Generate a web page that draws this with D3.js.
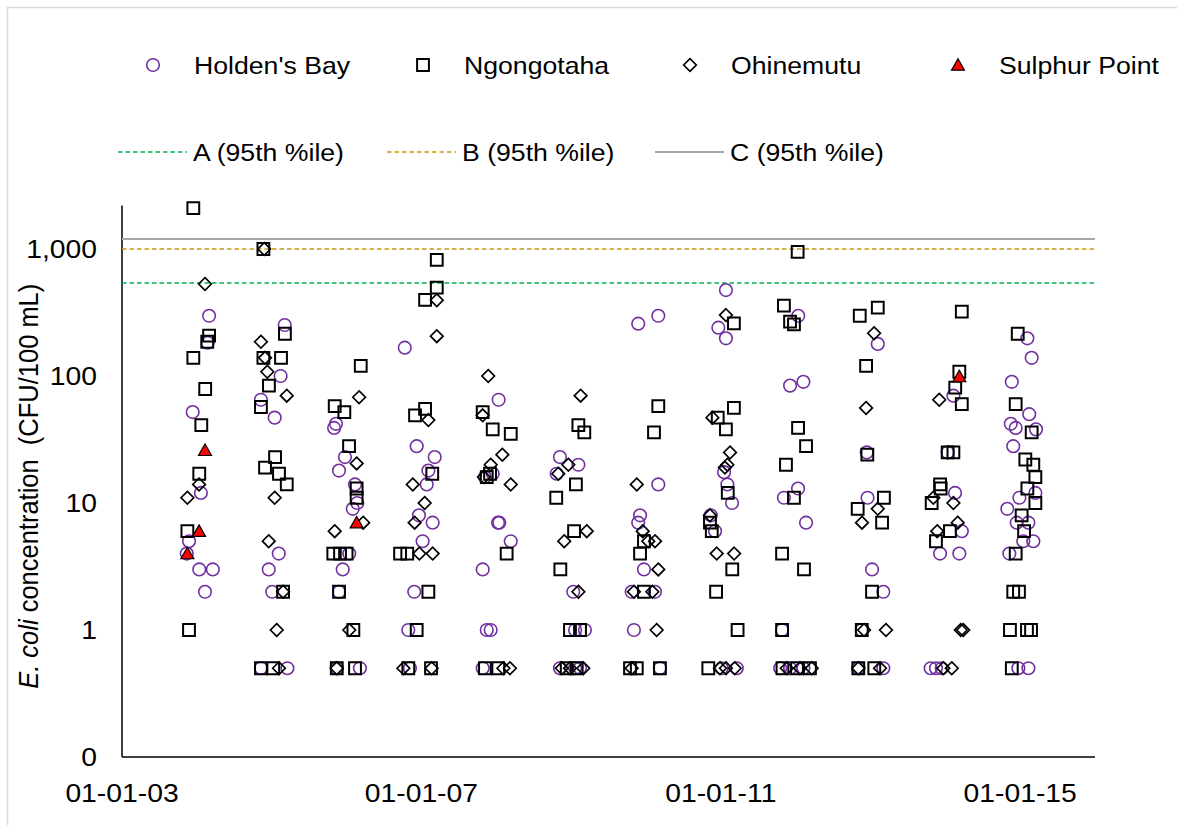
<!DOCTYPE html>
<html>
<head>
<meta charset="utf-8">
<script src="https://cdn.jsdelivr.net/npm/d3@7"></script>
<style>
  html, body { margin: 0; padding: 0; background: #fff; }
  svg { display: block; }
  text { font-family: "Liberation Sans", Arial, sans-serif; fill: #000; }
</style>
</head>
<body>
<div id="chart"></div>
<script>
// E. coli samples (CFU/100 mL) by site: [sample date, concentration]
const holdensBay = [
  ["2004-03-01", 298], ["2004-02-23", 183], ["2003-12-12", 52], ["2004-01-21", 12], ["2003-11-24", 5],
  ["2003-11-13", 4], ["2004-01-13", 3], ["2004-03-19", 3], ["2004-02-10", 2],
  ["2005-03-05", 252], ["2005-02-13", 100], ["2004-11-09", 65], ["2005-01-15", 47], ["2005-02-04", 4],
  ["2004-12-17", 3], ["2005-01-03", 2], ["2005-03-18", 0.5], ["2004-11-09", 0.5],
  ["2005-11-10", 42], ["2005-11-01", 39], ["2005-12-24", 23], ["2005-11-25", 18], ["2006-02-11", 14],
  ["2006-02-22", 10], ["2006-01-31", 9], ["2006-01-14", 4], ["2005-12-13", 3], ["2005-11-25", 2],
  ["2006-03-07", 0.5], ["2005-11-14", 0.5],
  ["2006-10-12", 167], ["2006-12-09", 28], ["2007-03-07", 23], ["2007-02-04", 18], ["2007-01-27", 14],
  ["2006-12-20", 8], ["2007-02-25", 7], ["2007-01-07", 5], ["2006-11-27", 2], ["2006-10-29", 1],
  ["2006-11-06", 0.5],
  ["2008-01-13", 65], ["2007-12-15", 17], ["2007-11-07", 16], ["2008-01-16", 7], ["2008-01-10", 7],
  ["2008-03-12", 5], ["2007-10-27", 3], ["2007-11-16", 1], ["2007-12-05", 1], ["2007-10-27", 0.5],
  ["2008-11-07", 23], ["2009-02-05", 20], ["2008-10-22", 17], ["2009-01-11", 2], ["2009-03-09", 1],
  ["2009-01-20", 1], ["2008-11-07", 0.5], ["2009-01-20", 0.5], ["2009-02-13", 0.5],
  ["2009-11-24", 258], ["2010-03-02", 298], ["2010-03-02", 14], ["2009-12-03", 8], ["2009-11-24", 7],
  ["2009-12-22", 3], ["2009-10-23", 2], ["2010-02-14", 2], ["2009-11-03", 1], ["2010-03-10", 0.5],
  ["2011-01-26", 475], ["2010-12-20", 240], ["2011-01-26", 198], ["2011-01-17", 17.5], ["2011-02-02", 14],
  ["2011-02-25", 10], ["2010-11-13", 8], ["2010-12-04", 6], ["2011-03-20", 0.5], ["2011-01-05", 0.5],
  ["2012-01-14", 298], ["2011-12-05", 84], ["2012-02-08", 90], ["2012-01-13", 13], ["2011-11-05", 11],
  ["2012-02-21", 7], ["2011-10-27", 1], ["2011-10-18", 0.5], ["2011-12-05", 0.5], ["2012-02-08", 0.5],
  ["2013-02-05", 179], ["2012-12-13", 25], ["2012-12-17", 11], ["2013-01-08", 3], ["2013-03-04", 2],
  ["2012-11-19", 1], ["2012-11-02", 0.5], ["2013-03-04", 0.5],
  ["2014-02-09", 70], ["2014-01-12", 25], ["2014-02-17", 12], ["2014-03-22", 6], ["2013-12-06", 4],
  ["2014-03-10", 4], ["2013-10-21", 0.5], ["2013-11-16", 0.5], ["2013-12-14", 0.5],
  ["2015-02-05", 198], ["2015-02-26", 139], ["2014-11-21", 90], ["2015-02-14", 50], ["2014-11-16", 42],
  ["2014-12-10", 39], ["2015-03-19", 38], ["2014-11-28", 28], ["2015-03-16", 12], ["2014-12-28", 11],
  ["2014-10-30", 9], ["2014-12-15", 7], ["2015-02-10", 7], ["2015-01-16", 5], ["2015-03-06", 5],
  ["2014-11-09", 4], ["2014-12-23", 0.5], ["2015-02-10", 0.5]
];

const ngongotaha = [
  ["2003-12-15", 2100], ["2004-03-01", 208], ["2004-02-21", 186], ["2003-12-15", 139], ["2004-02-11", 79],
  ["2004-01-23", 41], ["2004-01-13", 17], ["2003-11-16", 6], ["2003-11-24", 1],
  ["2004-11-21", 1000], ["2005-03-06", 215], ["2004-11-21", 139], ["2005-02-15", 139], ["2004-12-18", 84],
  ["2004-11-09", 57], ["2005-01-17", 23], ["2004-11-29", 19], ["2005-02-05", 17], ["2005-03-15", 14],
  ["2005-02-25", 2], ["2004-11-09", 0.5], ["2005-01-08", 0.5],
  ["2006-03-11", 120], ["2005-11-04", 58], ["2005-12-21", 52], ["2006-01-13", 28], ["2006-02-19", 13],
  ["2006-02-19", 11], ["2005-10-28", 4], ["2005-11-30", 4], ["2006-01-01", 4], ["2005-11-25", 2],
  ["2006-02-03", 1], ["2005-11-14", 0.5], ["2006-02-11", 0.5],
  ["2007-03-17", 820], ["2007-03-17", 496], ["2007-01-19", 397], ["2007-01-19", 55], ["2006-12-01", 49],
  ["2007-02-23", 17], ["2006-09-19", 4], ["2006-10-24", 4], ["2007-02-04", 2], ["2006-12-09", 1],
  ["2006-10-29", 0.5], ["2007-02-17", 0.5],
  ["2007-10-27", 52], ["2007-12-15", 38], ["2008-03-12", 35], ["2007-12-02", 17], ["2007-11-16", 16],
  ["2008-02-21", 4], ["2007-11-07", 0.5], ["2008-01-11", 0.5],
  ["2009-02-05", 41], ["2009-03-06", 36], ["2009-01-24", 14], ["2008-10-20", 11], ["2009-01-15", 6],
  ["2008-11-09", 3], ["2008-12-26", 1], ["2009-02-13", 1], ["2008-12-10", 0.5], ["2009-01-28", 0.5],
  ["2010-03-02", 58], ["2010-02-09", 36], ["2009-12-22", 5], ["2009-12-03", 4], ["2009-12-22", 2],
  ["2009-10-15", 0.5], ["2009-11-17", 0.5], ["2010-03-10", 0.5],
  ["2011-03-06", 260], ["2011-03-06", 56], ["2010-12-17", 47], ["2011-01-26", 38], ["2011-02-04", 12],
  ["2010-11-09", 7], ["2010-11-18", 6], ["2011-02-26", 3], ["2010-12-09", 2], ["2011-03-24", 1],
  ["2010-11-01", 0.5],
  ["2012-01-11", 950], ["2011-11-05", 358], ["2011-12-05", 268], ["2011-12-24", 255], ["2012-01-13", 39],
  ["2012-02-21", 28], ["2011-11-15", 20], ["2011-12-24", 11], ["2011-10-27", 4], ["2012-02-11", 3],
  ["2011-10-27", 1], ["2011-10-29", 0.5], ["2012-01-08", 0.5], ["2012-03-11", 0.5],
  ["2013-02-05", 345], ["2012-11-09", 298], ["2012-12-10", 120], ["2012-12-16", 24], ["2013-03-07", 11],
  ["2012-10-30", 9], ["2013-02-26", 7], ["2013-01-08", 2], ["2012-11-19", 1], ["2012-11-02", 0.5],
  ["2013-01-19", 0.5],
  ["2014-03-22", 321], ["2014-03-10", 108], ["2014-02-18", 81], ["2014-03-22", 60], ["2014-01-12", 25],
  ["2014-02-09", 25], ["2013-12-06", 14], ["2013-12-09", 13], ["2013-10-26", 10], ["2014-01-23", 6],
  ["2013-11-16", 5],
  ["2014-12-20", 215], ["2014-12-10", 60], ["2015-02-26", 36], ["2015-01-26", 22], ["2015-03-06", 20],
  ["2015-03-16", 16], ["2015-02-05", 13], ["2015-03-16", 10], ["2015-01-08", 8], ["2015-01-20", 6],
  ["2014-12-10", 4], ["2014-11-28", 2], ["2014-12-26", 2], ["2014-11-12", 1], ["2015-02-03", 1],
  ["2015-02-23", 1], ["2014-11-21", 0.5]
];

const ohinemutu = [
  ["2004-02-10", 530], ["2004-01-12", 14], ["2003-11-16", 11],
  ["2004-11-25", 1000], ["2004-11-09", 186], ["2004-11-29", 139], ["2004-12-10", 108], ["2005-03-15", 70],
  ["2005-01-15", 11], ["2004-12-17", 5], ["2005-02-25", 2], ["2005-01-25", 1], ["2005-02-05", 0.5],
  ["2006-03-03", 68], ["2006-02-19", 20.5], ["2006-03-23", 7], ["2005-11-04", 6], ["2006-01-14", 1],
  ["2005-11-14", 0.5],
  ["2007-03-17", 395], ["2007-03-17", 206], ["2007-02-04", 45], ["2006-11-20", 14], ["2007-01-17", 10],
  ["2006-11-29", 7], ["2006-12-22", 4], ["2007-02-25", 4], ["2006-10-05", 0.5], ["2007-02-20", 0.5],
  ["2007-11-23", 100], ["2007-10-27", 49], ["2008-01-31", 24], ["2007-12-05", 20], ["2007-11-02", 16],
  ["2008-03-12", 14], ["2008-02-05", 0.5], ["2008-03-08", 0.5],
  ["2009-02-16", 70], ["2008-12-18", 20], ["2008-10-30", 17], ["2009-03-18", 6], ["2008-11-28", 5],
  ["2009-02-05", 2], ["2008-11-16", 0.5], ["2008-12-26", 0.5], ["2009-03-01", 0.5],
  ["2009-11-17", 14], ["2009-12-16", 6], ["2010-01-12", 5], ["2010-02-14", 5], ["2010-03-02", 3],
  ["2009-11-03", 2], ["2010-02-01", 2], ["2010-02-22", 1], ["2009-10-23", 0.5],
  ["2011-01-26", 302], ["2010-11-21", 47], ["2011-02-15", 25], ["2011-02-02", 20], ["2011-01-21", 19],
  ["2010-11-09", 8], ["2010-12-12", 4], ["2011-03-07", 4], ["2010-12-28", 0.5], ["2011-01-26", 0.5],
  ["2011-03-10", 0.5],
  ["2011-11-19", 0.5], ["2012-01-22", 0.5], ["2012-03-20", 0.5],
  ["2013-01-18", 217], ["2012-12-10", 56], ["2013-02-05", 9], ["2012-11-20", 7], ["2012-11-30", 1],
  ["2013-03-17", 1], ["2012-11-02", 0.5], ["2013-02-16", 0.5],
  ["2013-12-02", 65], ["2013-11-03", 11], ["2014-02-09", 10], ["2014-03-02", 7], ["2013-11-22", 6],
  ["2014-03-17", 1], ["2014-03-29", 1], ["2013-12-22", 0.5], ["2014-02-01", 0.5]
];

const sulphurPoint = [
  ["2004-02-10", 26], ["2004-01-12", 6], ["2003-11-16", 4], ["2006-02-19", 7], ["2014-03-10", 99]
];

// 95th percentile attribute thresholds
const thresholdLabels = ["A (95th %ile)", "B (95th %ile)", "C (95th %ile)"];
const thresholdValues = [540, 1000, 1200];

// Axis ticks
const yTickValues = [0.1, 1, 10, 100, 1000];
const yTickLabels = ["0", "1", "10", "100", "1,000"];
const xTickDates = ["2003-01-01", "2007-01-01", "2011-01-01", "2015-01-01"];
const xDomain = ["2003-01-01", "2016-01-01"];
const yDomain = [0.1, 2200];

const W = 1177, H = 825;
const plot = { left: 122, right: 1095, top: 205.5, bottom: 757 };
const SX = 1.11; // horizontal text stretch

const parse = d3.utcParse("%Y-%m-%d");
const fmt = d3.utcFormat("%d-%m-%y");

const x = d3.scaleUtc().domain(xDomain.map(parse)).range([plot.left, plot.right]);
const y = d3.scaleLog().domain(yDomain).range([plot.bottom, plot.top]);

const svg = d3.select("#chart").append("svg").attr("width", W).attr("height", H);

// chart-area frame
svg.append("rect").attr("x", 7.5).attr("y", 7.5).attr("width", W + 10).attr("height", H + 10)
  .attr("fill", "none").attr("stroke", "#d9d9d9").attr("stroke-width", 1.5);

// marker shapes
const shapes = {
  circle: () => { const p = d3.path(); p.arc(0, 0, 6.3, 0, 2 * Math.PI); return p.toString(); },
  square: () => "M-5.9,-5.9H5.9V5.9H-5.9Z",
  diamond: () => "M0,-6.3L6.3,0L0,6.3L-6.3,0Z",
  triangle: () => "M0,-6.3L6.5,5.2L-6.5,5.2Z"
};

const series = [
  { name: "Holden's Bay", data: holdensBay, shape: "circle", fill: "none", stroke: "#7030a0", sw: 1.6 },
  { name: "Ngongotaha", data: ngongotaha, shape: "square", fill: "none", stroke: "#000", sw: 2 },
  { name: "Ohinemutu", data: ohinemutu, shape: "diamond", fill: "none", stroke: "#000", sw: 1.7 },
  { name: "Sulphur Point", data: sulphurPoint, shape: "triangle", fill: "#ff0000", stroke: "#000", sw: 1.2 }
];
const thresholds = thresholdLabels.map((label, i) => ({ label, value: thresholdValues[i] }));
const thresholdStyle = [
  { color: "#00b050", dash: "4.5,3", width: 1.6 },
  { color: "#c59a10", dash: "4.5,3", width: 1.6 },
  { color: "#a6a6a6", dash: null, width: 2 }
];

// axes lines
svg.append("line").attr("x1", plot.left).attr("x2", plot.left).attr("y1", plot.top).attr("y2", plot.bottom)
  .attr("stroke", "#000").attr("stroke-width", 1.5);
svg.append("line").attr("x1", plot.left).attr("x2", plot.right).attr("y1", plot.bottom).attr("y2", plot.bottom)
  .attr("stroke", "#000").attr("stroke-width", 1.5);

// y tick labels
yTickValues.forEach((v, i) => {
  svg.append("text")
    .attr("transform", `translate(97,${y(v) + 9}) scale(${SX},1)`)
    .attr("text-anchor", "end").attr("font-size", 25.5)
    .text(yTickLabels[i]);
});

// x tick labels
xTickDates.forEach(d => {
  svg.append("text")
    .attr("transform", `translate(${x(parse(d))},${plot.bottom + 45}) scale(${SX},1)`)
    .attr("text-anchor", "middle").attr("font-size", 25.5)
    .text(fmt(parse(d)));
});

// y axis title
const title = svg.append("text")
  .attr("transform", `translate(38,${(plot.top + plot.bottom) / 2 + 5}) scale(${SX},1) rotate(-90)`)
  .attr("text-anchor", "middle").attr("font-size", 25.5);
title.append("tspan").attr("font-style", "italic").text("E. coli");
title.append("tspan").attr("xml:space", "preserve").text(" concentration\u00a0 (CFU/100 mL)");

// threshold lines
thresholds.forEach((t, i) => {
  const s = thresholdStyle[i];
  svg.append("line")
    .attr("x1", plot.left).attr("x2", plot.right)
    .attr("y1", y(t.value)).attr("y2", y(t.value))
    .attr("stroke", s.color).attr("stroke-width", s.width)
    .attr("stroke-dasharray", s.dash);
});

// points
series.forEach(s => {
  svg.append("g").selectAll("path").data(s.data).join("path")
    .attr("transform", d => `translate(${x(parse(d[0]))},${y(d[1])})`)
    .attr("d", shapes[s.shape]())
    .attr("fill", s.fill).attr("stroke", s.stroke).attr("stroke-width", s.sw);
});

// legend: marker row
const legendMarkers = [153, 423, 690, 958];
series.forEach((s, i) => {
  svg.append("path")
    .attr("transform", `translate(${legendMarkers[i]},65)`)
    .attr("d", shapes[s.shape]())
    .attr("fill", s.fill).attr("stroke", s.stroke).attr("stroke-width", s.sw);
  svg.append("text")
    .attr("transform", `translate(${legendMarkers[i] + 41},73.5) scale(${SX},1)`)
    .attr("font-size", 24).text(s.name);
});

// legend: threshold row
const legendLines = [118, 387, 655];
thresholds.forEach((t, i) => {
  const s = thresholdStyle[i];
  svg.append("line")
    .attr("x1", legendLines[i]).attr("x2", legendLines[i] + 69)
    .attr("y1", 152).attr("y2", 152)
    .attr("stroke", s.color).attr("stroke-width", s.width)
    .attr("stroke-dasharray", s.dash);
  svg.append("text")
    .attr("transform", `translate(${legendLines[i] + 75},160.5) scale(${SX},1)`)
    .attr("font-size", 24).text(t.label);
});
</script>
</body>
</html>
